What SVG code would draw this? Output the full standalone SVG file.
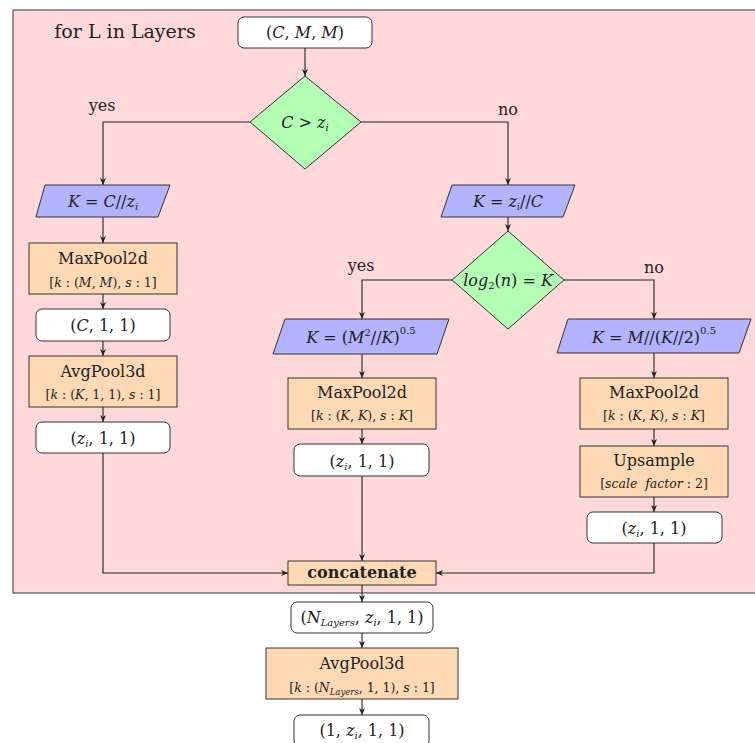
<svg xmlns="http://www.w3.org/2000/svg" width="755" height="743" viewBox="0 0 755 743">
<style>
text{font-family:"DejaVu Serif","Liberation Serif",serif;fill:#222;text-anchor:middle}
.t{font-size:16px}
.s{font-size:12.5px}
.i{font-style:italic}
.sub{font-size:10px;font-style:italic}
.box{fill:#ffd9b3;stroke:#333;stroke-width:1}
.val{fill:#fff;stroke:#333;stroke-width:1}
.par{fill:#b3b3ff;stroke:#333;stroke-width:1}
.dia{fill:#b3ffb3;stroke:#333;stroke-width:1}
.c path{fill:none;stroke:#222;stroke-width:1.1}
</style>
<defs>
<marker id="a" viewBox="0 0 8 8" refX="7" refY="4" markerWidth="8" markerHeight="8" markerUnits="userSpaceOnUse" orient="auto">
<path d="M0,1 L7,4 L0,7 L2,4 z" fill="#222"/>
</marker>
</defs>
<rect width="755" height="743" fill="#fff"/>
<g id="loop">
<rect x="13" y="10" width="750" height="583" fill="#ffd9d9" stroke="#555" stroke-width="1.2"/>
<text x="125" y="38" style="font-size:19px">for L in Layers</text>
</g>
<g class="c">
<path d="M305,48 V76" marker-end="url(#a)"/>
<path d="M250,122 H103 V185" marker-end="url(#a)"/>
<path d="M361,122 H508 V185" marker-end="url(#a)"/>
<path d="M103,217 V243" marker-end="url(#a)"/>
<path d="M103,294 V309" marker-end="url(#a)"/>
<path d="M103,341 V356" marker-end="url(#a)"/>
<path d="M103,407 V422" marker-end="url(#a)"/>
<path d="M103,453 V573 H288" marker-end="url(#a)"/>
<path d="M508,217 V231" marker-end="url(#a)"/>
<path d="M452,280 H362 V319" marker-end="url(#a)"/>
<path d="M563,280 H654 V319" marker-end="url(#a)"/>
<path d="M362,354 V378" marker-end="url(#a)"/>
<path d="M362,429 V444" marker-end="url(#a)"/>
<path d="M362,476 V561" marker-end="url(#a)"/>
<path d="M654,353 V378" marker-end="url(#a)"/>
<path d="M654,429 V446" marker-end="url(#a)"/>
<path d="M654,497 V512" marker-end="url(#a)"/>
<path d="M654,543 V573 H436" marker-end="url(#a)"/>
<path d="M362,585 V602" marker-end="url(#a)"/>
<path d="M362,633 V648" marker-end="url(#a)"/>
<path d="M362,699 V715" marker-end="url(#a)"/>
</g>
<g id="labels">
<text class="t" x="102" y="111">yes</text>
<text class="t" x="508" y="115">no</text>
<text class="t" x="361" y="271">yes</text>
<text class="t" x="654" y="273">no</text>
</g>
<g id="input">
<rect class="val" x="238" y="17" width="134" height="31" rx="6"/>
<text class="t" x="305" y="38">(<tspan class="i">C</tspan>, <tspan class="i">M</tspan>, <tspan class="i">M</tspan>)</text>
</g>
<g id="cond1">
<path class="dia" d="M305,76 L361,122 L305,169 L250,122 z"/>
<text class="t" x="305" y="128"><tspan class="i">C</tspan>&#160;&gt;&#160;<tspan class="i">z</tspan><tspan class="sub" dy="3">i</tspan></text>
</g>
<g id="kleft">
<path class="par" d="M45,185 H170 L158,217 H36 z"/>
<text class="t" x="103" y="207"><tspan class="i">K</tspan>&#160;=&#160;<tspan class="i">C</tspan>//<tspan class="i">z</tspan><tspan class="sub" dy="3">i</tspan></text>
</g>
<g id="maxpool-left">
<rect class="box" x="29" y="243" width="148" height="51"/>
<text class="t" x="103" y="264">MaxPool2d</text>
<text class="s" x="103" y="287">[<tspan class="i">k</tspan>&#160;:&#160;(<tspan class="i">M</tspan>,&#160;<tspan class="i">M</tspan>),&#160;<tspan class="i">s</tspan>&#160;:&#160;1]</text>
</g>
<g id="c11">
<rect class="val" x="36" y="309" width="134" height="32" rx="6"/>
<text class="t" x="103" y="331">(<tspan class="i">C</tspan>, 1, 1)</text>
</g>
<g id="avgpool-left">
<rect class="box" x="29" y="356" width="148" height="51"/>
<text class="t" x="103" y="377">AvgPool3d</text>
<text class="s" x="103" y="399">[<tspan class="i">k</tspan>&#160;:&#160;(<tspan class="i">K</tspan>,&#160;1,&#160;1),&#160;<tspan class="i">s</tspan>&#160;:&#160;1]</text>
</g>
<g id="out-left">
<rect class="val" x="36" y="422" width="134" height="31" rx="6"/>
<text class="t" x="103" y="444">(<tspan class="i">z</tspan><tspan class="sub" dy="3">i</tspan><tspan dy="-3">, 1, 1)</tspan></text>
</g>
<g id="kright">
<path class="par" d="M452,185 H575 L563,217 H441 z"/>
<text class="t" x="508" y="207"><tspan class="i">K</tspan>&#160;=&#160;<tspan class="i">z</tspan><tspan class="sub" dy="3">i</tspan><tspan dy="-3">//</tspan><tspan class="i">C</tspan></text>
</g>
<g id="cond2">
<path class="dia" d="M508,231 L564,280 L508,329 L452,280 z"/>
<text class="t" x="508" y="286"><tspan class="i">log</tspan><tspan font-size="10" dy="3">2</tspan><tspan dy="-3">(</tspan><tspan class="i">n</tspan>)&#160;=&#160;<tspan class="i">K</tspan></text>
</g>
<g id="kmid">
<path class="par" d="M285,319 H449 L437,354 H273 z"/>
<text class="t" x="361" y="343"><tspan class="i">K</tspan>&#160;=&#160;(<tspan class="i">M</tspan><tspan font-size="10" dy="-7">2</tspan><tspan dy="7">//</tspan><tspan class="i">K</tspan>)<tspan font-size="10" dy="-9">0.5</tspan></text>
</g>
<g id="maxpool-mid">
<rect class="box" x="288" y="378" width="148" height="51"/>
<text class="t" x="362" y="398">MaxPool2d</text>
<text class="s" x="362" y="420">[<tspan class="i">k</tspan>&#160;:&#160;(<tspan class="i">K</tspan>,&#160;<tspan class="i">K</tspan>),&#160;<tspan class="i">s</tspan>&#160;:&#160;<tspan class="i">K</tspan>]</text>
</g>
<g id="out-mid">
<rect class="val" x="294" y="444" width="135" height="32" rx="6"/>
<text class="t" x="362" y="467">(<tspan class="i">z</tspan><tspan class="sub" dy="3">i</tspan><tspan dy="-3">, 1, 1)</tspan></text>
</g>
<g id="kfar">
<path class="par" d="M568,319 H751 L739,353 H557 z"/>
<text class="t" x="654" y="343"><tspan class="i">K</tspan>&#160;=&#160;<tspan class="i">M</tspan>//(<tspan class="i">K</tspan>//2)<tspan font-size="10" dy="-9">0.5</tspan></text>
</g>
<g id="maxpool-right">
<rect class="box" x="580" y="378" width="148" height="51"/>
<text class="t" x="654" y="398">MaxPool2d</text>
<text class="s" x="654" y="420">[<tspan class="i">k</tspan>&#160;:&#160;(<tspan class="i">K</tspan>,&#160;<tspan class="i">K</tspan>),&#160;<tspan class="i">s</tspan>&#160;:&#160;<tspan class="i">K</tspan>]</text>
</g>
<g id="upsample">
<rect class="box" x="580" y="446" width="148" height="51"/>
<text class="t" x="654" y="466">Upsample</text>
<text class="s" x="654" y="488">[<tspan class="i">scale&#160;&#160;factor</tspan>&#160;:&#160;2]</text>
</g>
<g id="out-right">
<rect class="val" x="587" y="512" width="135" height="31" rx="6"/>
<text class="t" x="654" y="534">(<tspan class="i">z</tspan><tspan class="sub" dy="3">i</tspan><tspan dy="-3">, 1, 1)</tspan></text>
</g>
<g id="concat">
<rect class="box" x="288" y="561" width="148" height="24"/>
<text class="t" x="362" y="578" font-weight="bold">concatenate</text>
</g>
<g id="stack">
<rect class="val" x="291" y="602" width="142" height="31" rx="6"/>
<text class="t" x="362" y="623">(<tspan class="i">N</tspan><tspan class="sub" dy="3">Layers</tspan><tspan dy="-3">, </tspan><tspan class="i">z</tspan><tspan class="sub" dy="3">i</tspan><tspan dy="-3">, 1, 1)</tspan></text>
</g>
<g id="avgpool-final">
<rect class="box" x="266" y="648" width="192" height="51"/>
<text class="t" x="362" y="669">AvgPool3d</text>
<text class="s" x="362" y="692">[<tspan class="i">k</tspan>&#160;:&#160;(<tspan class="i">N</tspan><tspan font-size="8.5" font-style="italic" dy="3">Layers</tspan><tspan dy="-3">,&#160;1,&#160;1),&#160;</tspan><tspan class="i">s</tspan>&#160;:&#160;1]</text>
</g>
<g id="output">
<rect class="val" x="294" y="715" width="135" height="32" rx="6"/>
<text class="t" x="362" y="736">(1, <tspan class="i">z</tspan><tspan class="sub" dy="3">i</tspan><tspan dy="-3">, 1, 1)</tspan></text>
</g>
</svg>
